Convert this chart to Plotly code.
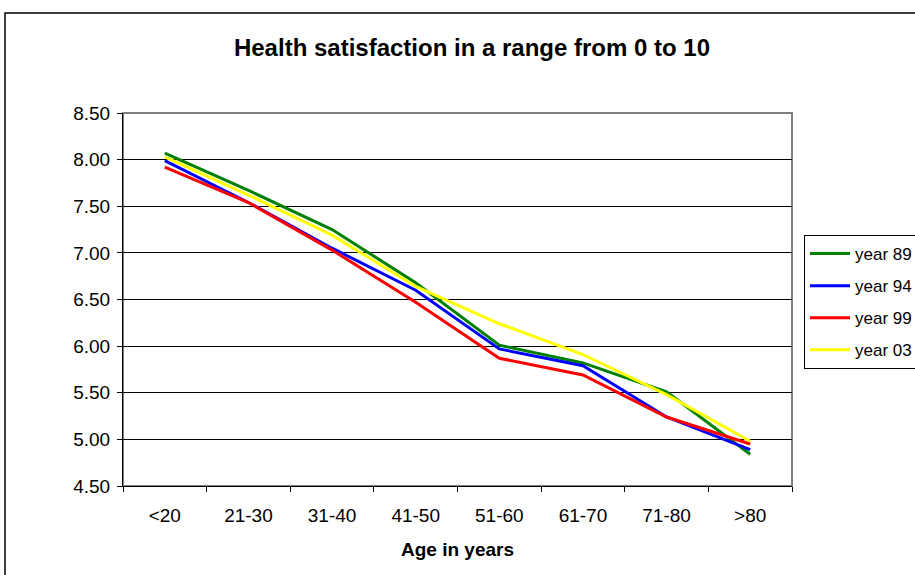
import plotly.graph_objects as go

categories = ["<20", "21-30", "31-40", "41-50", "51-60", "61-70", "71-80", ">80"]
year89 = [8.07, 7.67, 7.25, 6.68, 6.01, 5.82, 5.51, 4.84]
year94 = [7.99, 7.54, 7.05, 6.60, 5.97, 5.79, 5.24, 4.89]
year99 = [7.92, 7.54, 7.03, 6.47, 5.87, 5.69, 5.24, 4.95]
year03 = [8.03, 7.62, 7.19, 6.64, 6.24, 5.91, 5.48, 4.98]
series_names = ["year 89", "year 94", "year 99", "year 03"]
series_colors = ["#008000", "#0000FF", "#FF0000", "#FFFF00"]
y_ticks = [4.5, 5.0, 5.5, 6.0, 6.5, 7.0, 7.5, 8.0, 8.5]

FONT = "Liberation Sans, Arial, sans-serif"

fig = go.Figure()
for i, (name, vals, col) in enumerate(zip(series_names, [year89, year94, year99, year03], series_colors)):
    fig.add_trace(go.Scatter(x=categories, y=vals, mode="lines", name=name,
                             line=dict(color=col, width=3), legendgroup=f"g{i}"))

L, R, T, B = 123, 123, 113, 89
W, H = 915, 575
pw, ph = W - L - R, H - T - B

def px2x(px):
    return (px - L) / pw

def py2y(py):
    return (H - B - py) / ph

fig.update_layout(
    width=W, height=H,
    margin=dict(l=L, r=R, t=T, b=B, autoexpand=False),
    paper_bgcolor="white", plot_bgcolor="white",
    font=dict(family=FONT, size=19, color="black"),
    title=dict(text="<b>Health satisfaction in a range from 0 to 10</b>",
               x=472 / W, xanchor="center", y=1 - 48 / H, yanchor="middle",
               font=dict(family=FONT, size=24, color="black")),
    showlegend=True,
    legend=dict(x=px2x(804), y=py2y(235), xanchor="left", yanchor="top",
                bordercolor="black", borderwidth=1, bgcolor="white",
                font=dict(family=FONT, size=17, color="black"),
                tracegroupgap=7, itemwidth=40),
    xaxis=dict(type="category", range=[-0.5, 7.5], tickson="boundaries",
               ticks="outside", ticklen=5, tickcolor="black",
               showline=True, linecolor="black", linewidth=1,
               showgrid=False, ticklabelstandoff=12,
               tickfont=dict(family=FONT, size=19),
               title=dict(text="<b>Age in years</b>", standoff=17,
                          font=dict(family=FONT, size=19))),
    yaxis=dict(range=[4.5, 8.5], tickvals=y_ticks, tickformat=".2f",
               ticks="outside", ticklen=5, tickcolor="black",
               showline=True, linecolor="black", linewidth=1,
               showgrid=True, gridcolor="black", gridwidth=1,
               zeroline=False, ticklabelstandoff=3,
               tickfont=dict(family=FONT, size=19)),
    shapes=[
        dict(type="rect", xref="paper", yref="paper", x0=0, x1=1, y0=0, y1=1,
             line=dict(color="#808080", width=2), layer="below"),
        dict(type="rect", xref="paper", yref="paper",
             x0=px2x(5), x1=px2x(940), y0=py2y(600), y1=py2y(13),
             line=dict(color="black", width=1.5), layer="below"),
    ],
)

fig.write_html("out.html")
